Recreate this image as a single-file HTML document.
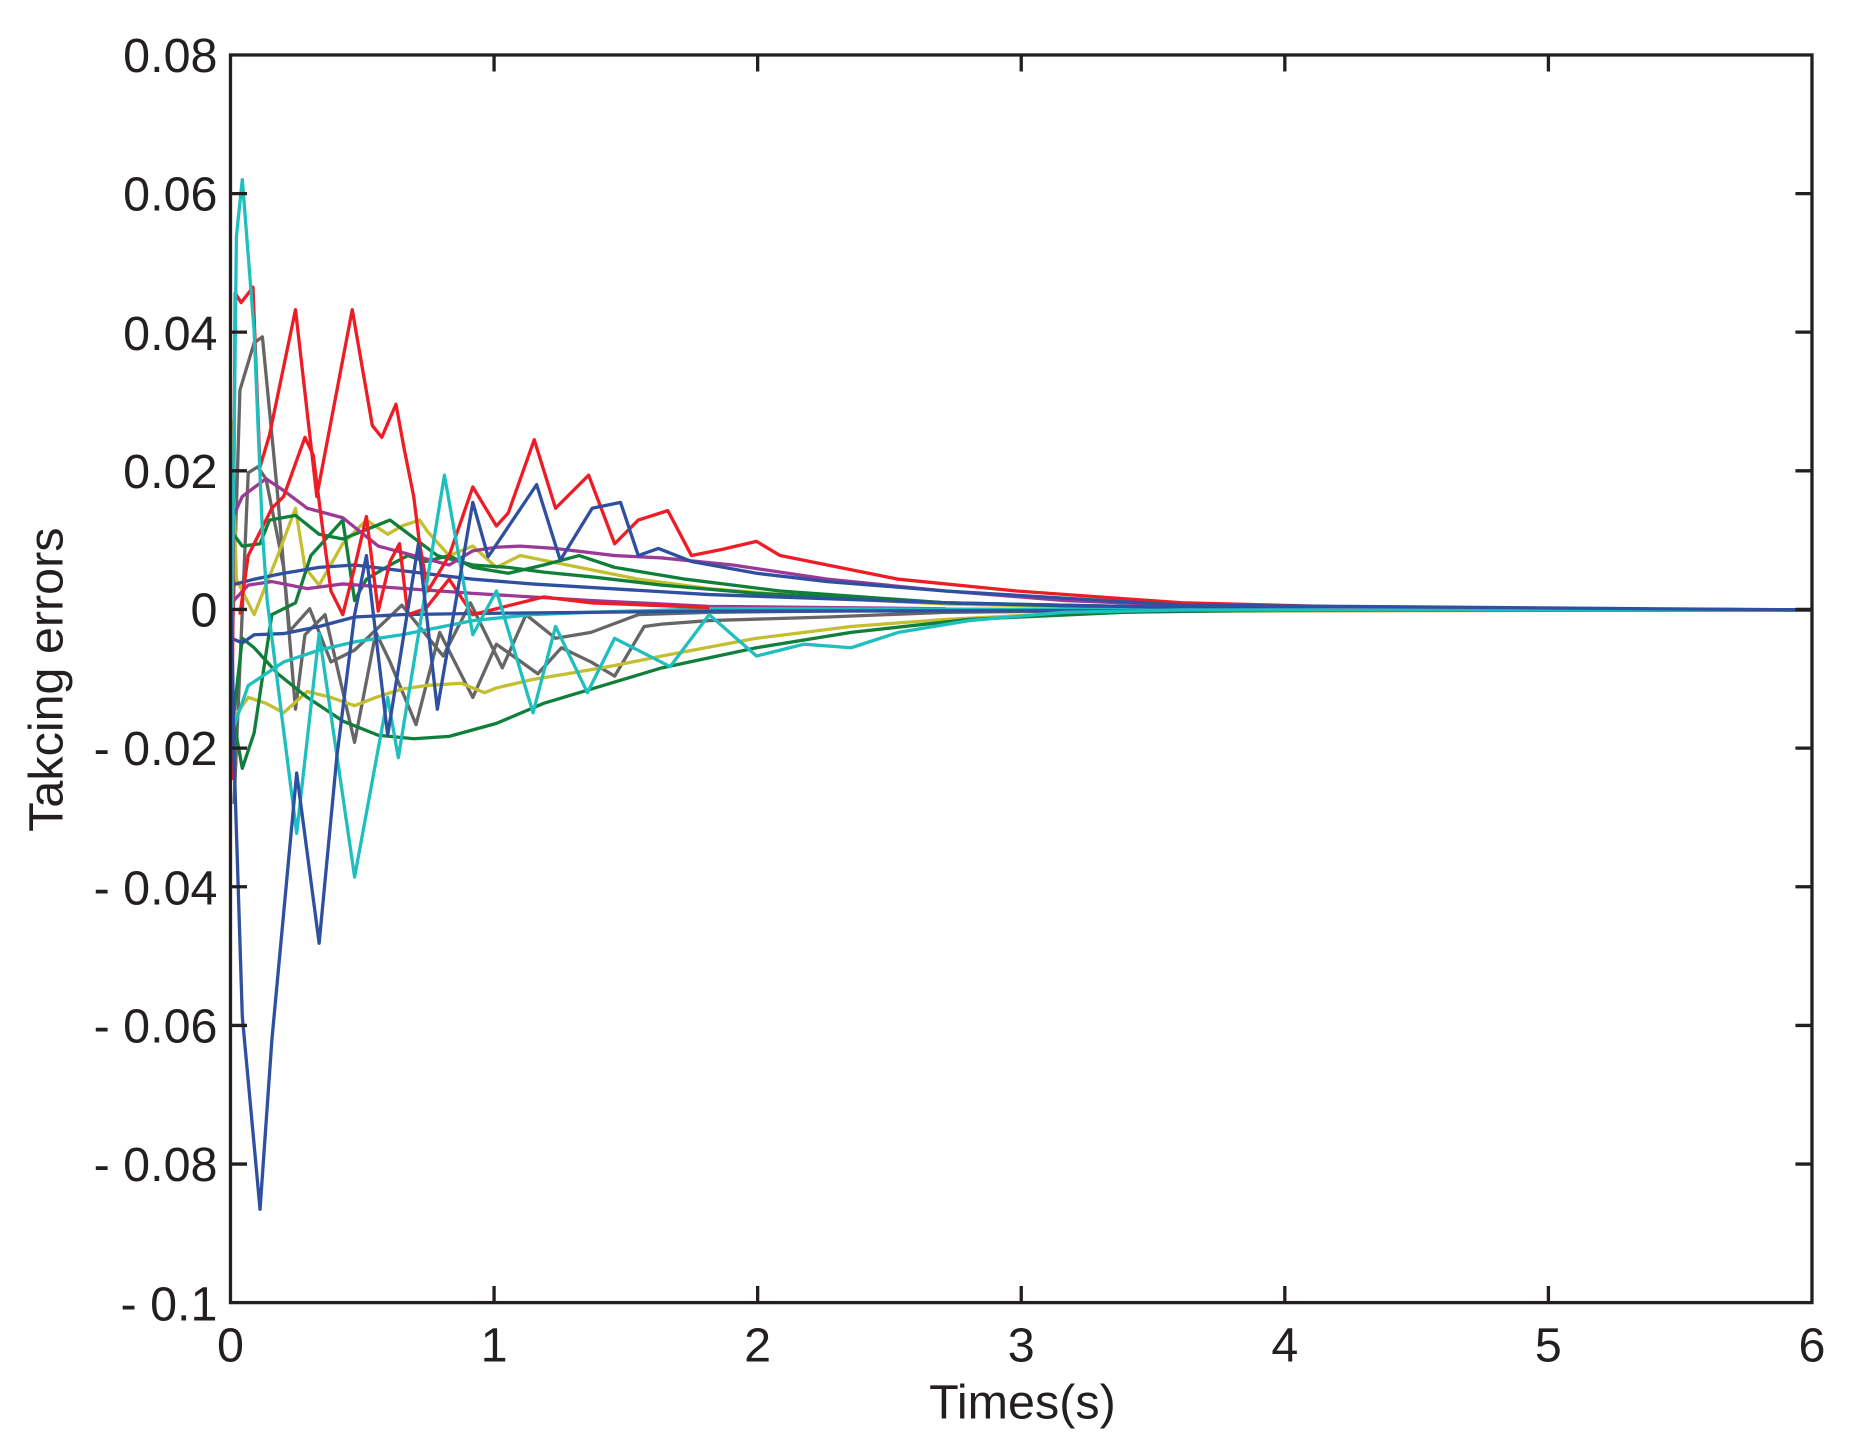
<!DOCTYPE html>
<html><head><meta charset="utf-8"><style>html,body{margin:0;padding:0;background:#fff}svg{display:block}</style></head><body>
<svg width="1853" height="1450" viewBox="0 0 1567.7 1226.7" preserveAspectRatio="none" xmlns="http://www.w3.org/2000/svg">
<rect width="1568" height="1227" fill="#fff"/>
<g fill="none" stroke-width="2.8" stroke-linejoin="round">
<polyline stroke="#666" points="196,560 203,330 215,290 222,285 235,420 250,600 258,537 275,520 300,628 318,535 330,560 352,613 372,535 400,590 420,545 455,570 475,548 500,560 520,572 545,530 560,528 600,525 700,522 800,518 1000,516 1533,516"/>
<polyline stroke="#666" points="198,680 210,400 218,395 225,405 240,480 245,534 262,515 280,560 300,550 340,512 375,555 398,510 425,565 445,520 470,540 500,535 540,520 600,518 800,516"/>
<polyline stroke="#c4bf30" points="196,355 200,490 215,520 235,470 250,430 258,480 270,495 290,460 310,440 328,452 340,445 355,440 362,450 380,470 400,462 420,480 440,470 480,478 540,490 600,498 700,506 800,511 1000,515 1533,516"/>
<polyline stroke="#c4bf30" points="196,610 210,590 225,595 240,603 260,585 280,590 300,597 318,590 340,583 360,580 390,578 410,586 420,582 450,575 480,570 520,563 560,555 640,540 720,530 800,524 900,519 1000,517 1533,516"/>
<polyline stroke="#0f7f3a" points="196,620 205,540 215,548 235,570 260,590 290,610 320,622 350,625 380,623 420,612 460,595 510,580 560,565 640,548 720,535 820,524 950,518 1100,516 1533,516"/>
<polyline stroke="#0f7f3a" points="196,450 205,462 220,460 228,440 250,436 270,452 290,456 310,448 330,440 350,455 370,470 400,478 430,480 460,484 500,488 560,495 640,502 800,510 1000,514 1533,516"/>
<polyline stroke="#0f7f3a" points="196,600 205,650 215,620 230,520 250,510 263,470 290,440 300,508 310,490 330,478 345,470 360,475 380,470 400,480 430,485 460,478 490,470 520,480 580,490 660,500 800,510 1000,515"/>
<polyline stroke="#9b3a96" points="196,440 205,420 225,405 240,415 260,430 290,438 320,462 350,470 380,478 400,466 420,463 440,462 470,464 520,470 560,472 620,478 700,490 800,500 900,508 1000,512 1200,515 1533,516"/>
<polyline stroke="#9b3a96" points="196,510 210,495 230,492 260,498 290,494 330,497 400,502 500,508 600,513 800,515"/>
<polyline stroke="#1fbfbf" points="196,620 210,580 240,560 270,550 300,543 340,537 400,525 450,520 500,518 600,515 1200,516"/>
<polyline stroke="#2f4fa0" points="196,540 205,544 215,537 240,536 270,530 300,522 340,520 400,519 600,517 1533,516"/>
<polyline stroke="#2f4fa0" points="196,495 215,490 240,485 270,480 300,478 350,484 400,490 450,494 600,503 800,510 1000,514 1533,516"/>
<polyline stroke="#ee1c25" points="203,520 210,470 230,430 240,420 258,370 265,385 272,440 280,500 290,520 300,480 310,437 320,517 330,475 338,460 345,520 360,515 380,490 400,520 460,505 500,510 600,514"/>
<polyline stroke="#ee1c25" points="196,660 199,248 204,256 214,243 220,395 228,368 250,262 268,420 298,262 315,360 323,370 335,342 342,380 350,420 355,460 362,500 380,470 400,412 420,445 430,434 452,372 470,430 498,402 520,460 540,440 565,432 585,470 610,465 640,458 660,470 700,478 760,490 860,500 1000,510 1200,515 1533,516"/>
<polyline stroke="#1fbfbf" points="196,560 200,200 205,152 215,280 222,450 226,508 251,705 270,536 300,742 328,590 337,641 376,402 400,537 420,500 451,603 470,530 497,586 520,540 567,564 600,520 640,555 680,545 720,548 760,535 820,525 900,518 1000,516 1533,516"/>
<polyline stroke="#2f4fa0" points="196,516 198,640 205,860 220,1023 230,880 251,654 270,798 285,640 300,520 310,470 328,622 354,460 370,600 400,425 413,471 454,410 474,474 501,430 525,425 540,470 557,464 585,475 640,485 700,492 800,500 1000,512 1533,516"/>
</g>
<g stroke="#231f20" stroke-width="2.8" fill="none">
<rect x="195" y="46.5" width="1338" height="1055.5"/>
<path d="M195,163.8h14M195,281h14M195,398.3h14M195,515.6h14M195,632.9h14M195,750.2h14M195,867.5h14M195,984.8h14M1533,163.8h-14M1533,281h-14M1533,398.3h-14M1533,515.6h-14M1533,632.9h-14M1533,750.2h-14M1533,867.5h-14M1533,984.8h-14"/>
<path d="M418,1102v-14M641,1102v-14M864,1102v-14M1087,1102v-14M1310,1102v-14M418,46.5v14M641,46.5v14M864,46.5v14M1087,46.5v14M1310,46.5v14"/>
</g>
<g font-family="Liberation Sans, sans-serif" font-size="41" fill="#231f20">
<g text-anchor="end">
<text x="184" y="61">0.08</text>
<text x="184" y="178">0.06</text>
<text x="184" y="296">0.04</text>
<text x="184" y="413">0.02</text>
<text x="184" y="530">0</text>
<text x="184" y="647">- 0.02</text>
<text x="184" y="765">- 0.04</text>
<text x="184" y="882">- 0.06</text>
<text x="184" y="999">- 0.08</text>
<text x="184" y="1117">- 0.1</text>
</g>
<g text-anchor="middle">
<text x="195" y="1152">0</text>
<text x="418" y="1152">1</text>
<text x="641" y="1152">2</text>
<text x="864" y="1152">3</text>
<text x="1087" y="1152">4</text>
<text x="1310" y="1152">5</text>
<text x="1533" y="1152">6</text>
<text x="865" y="1200">Times(s)</text>
<text transform="translate(53,575) rotate(-90)">Takcing errors</text>
</g>
</g>
</svg>
</body></html>
